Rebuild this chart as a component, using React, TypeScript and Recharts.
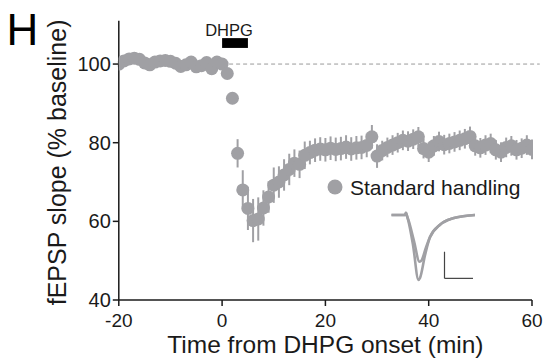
import React from 'react';
import {
  ComposedChart,
  LineChart,
  Line,
  XAxis,
  YAxis,
  ErrorBar,
  ReferenceLine,
  ReferenceArea,
} from 'recharts';

// Time from DHPG onset (min)
const times = [
  -20, -19, -18, -17, -16, -15, -14, -13, -12, -11, -10, -9, -8, -7, -6, -5, -4, -3, -2, -1,
  0, 1, 2, 3, 4, 5, 6, 7, 8, 9, 10, 11, 12, 13, 14, 15, 16, 17, 18, 19,
  20, 21, 22, 23, 24, 25, 26, 27, 28, 29, 30, 31, 32, 33, 34, 35, 36, 37, 38, 39,
  40, 41, 42, 43, 44, 45, 46, 47, 48, 49, 50, 51, 52, 53, 54, 55, 56, 57, 58, 59, 60,
];

// fEPSP slope (% baseline), standard handling
const slope = [
  100, 100.8, 101.3, 101.5, 101.2, 100.3, 99.8, 100.5, 100.8, 100.9, 100.7, 100.2, 99.4, 99.8, 100.5, 99.3, 99.6, 100.4, 98.8, 100.5,
  100, 97.6, 91.3, 77.3, 68, 63.3, 60.2, 60.6, 63.4, 66.2, 69.2, 70, 71.8, 73.2, 74.8, 74.5, 76.8, 77.5, 78.1, 78.4,
  78.2, 78.6, 78.3, 78.5, 78.9, 78.4, 78.7, 78.8, 79.3, 81.5, 76.6, 78, 78.8, 79.4, 80, 80.6, 80.4, 80.9, 81.5, 78.5,
  77.6, 79.2, 80.3, 79.5, 79.8, 80.2, 80.6, 81, 81.6, 79.2, 78.7, 79.4, 79.8, 78.2, 77.6, 78.8, 79.2, 78.2, 78.6, 79.4, 78.3,
];

// SEM
const sem = [
  0.8, 0.8, 0.8, 0.8, 0.8, 0.8, 0.8, 0.8, 0.8, 0.8, 0.8, 0.8, 0.8, 0.8, 0.8, 0.8, 0.8, 0.8, 0.8, 0.8,
  0.8, 1, 1.5, 3.6, 5, 5.5, 5.5, 5.5, 4.5, 4, 4.5, 4, 4, 4, 3.5, 3.5, 3.5, 3, 3, 3,
  3, 3, 3, 3, 3, 3, 3, 3, 3, 3, 3, 2.5, 2.5, 2.5, 2.5, 2.5, 2.5, 2.5, 2.5, 2.5,
  2.5, 2.5, 2.5, 2.5, 2.5, 2.5, 2.5, 2.5, 2.5, 2.5, 2.5, 2.5, 2.5, 2.5, 2.5, 2.5, 2.5, 2.5, 2.5, 2.5, 2.5,
];

const xTicks = [-20, 0, 20, 40, 60];
const yTicks = [40, 60, 80, 100];

// Inset example traces (ms, mV)
const traceBaselineT = [0.3, 3, 3.2, 3.4, 3.7, 4.6, 5.7, 6, 7, 8, 10, 12.6, 15, 17];
const traceBaselineV = [0, 0, 0.035, -0.015, -0.1, -0.46, -1.0, -0.97, -0.62, -0.34, -0.15, -0.05, -0.015, 0];
const traceAfterT = [0.3, 3, 3.2, 3.4, 3.7, 4.8, 5.9, 6.3, 7.2, 8, 10, 12.6, 15, 17];
const traceAfterV = [0, 0, 0.035, -0.015, -0.08, -0.4, -0.72, -0.7, -0.5, -0.34, -0.15, -0.05, -0.015, 0];

const data = times.map((t, i) => ({ t, v: slope[i], e: sem[i] }));
const baseTrace = traceBaselineT.map((t, i) => ({ t, v: traceBaselineV[i] }));
const afterTrace = traceAfterT.map((t, i) => ({ t, v: traceAfterV[i] }));

const GREY = '#a0a0a4';
const FONT = '"Liberation Sans", Arial, Helvetica, sans-serif';
const INK = '#1a1a1a';

export default function App() {
  return (
    <div style={{ position: 'absolute', left: 0, top: 0, width: 545, height: 358, background: '#fff', fontFamily: FONT }}>
      <ComposedChart
        width={545}
        height={358}
        data={data}
        margin={{ top: 20.8, right: 13, bottom: 8, left: 58.8 }}
        style={{ fontFamily: FONT }}
      >
        <XAxis
          type="number"
          dataKey="t"
          domain={[-20, 60]}
          ticks={xTicks}
          allowDataOverflow
          height={50}
          tickSize={6}
          tickMargin={7.5}
          stroke={INK}
          strokeWidth={1.5}
          tick={{ fill: INK, fontSize: 19, fontFamily: FONT }}
          label={{
            content: (p: any) => {
              const vb = p.viewBox;
              return (
                <text x={vb.x + vb.width / 2} y={352.5} textAnchor="middle" fontSize={24.5} fill={INK} fontFamily={FONT}>
                  Time from DHPG onset (min)
                </text>
              );
            },
          }}
        />
        <YAxis
          type="number"
          domain={[40, 111]}
          ticks={yTicks}
          allowDataOverflow
          width={60}
          tickSize={6}
          tickMargin={2}
          stroke={INK}
          strokeWidth={1.5}
          tick={{ fill: INK, fontSize: 20, fontFamily: FONT }}
          label={{
            content: (p: any) => {
              const vb = p.viewBox;
              const cx = 57;
              const cy = vb.y + vb.height / 2 + 2;
              return (
                <text
                  x={cx}
                  y={cy}
                  transform={`rotate(-90, ${cx}, ${cy})`}
                  textAnchor="middle"
                  dominantBaseline="central"
                  fontSize={25}
                  fill={INK}
                  fontFamily={FONT}
                >
                  fEPSP slope (% baseline)
                </text>
              );
            },
          }}
        />
        <ReferenceLine
          segment={[{ x: 0, y: 100 }, { x: 61.5, y: 100 }]}
          stroke="#9a9a9a"
          strokeWidth={1}
          strokeDasharray="4 3"
          ifOverflow="visible"
        />
        <ReferenceArea
          x1={0}
          x2={5}
          y1={104.1}
          y2={106.6}
          fill="#000"
          fillOpacity={1}
          stroke="none"
          ifOverflow="visible"
          label={{
            content: (p: any) => {
              const vb = p.viewBox;
              return (
                <text x={vb.x + vb.width / 2 - 6} y={vb.y - 2} textAnchor="middle" fontSize={16.5} fill={INK} fontFamily={FONT}>
                  DHPG
                </text>
              );
            },
          }}
        />
        <Line
          dataKey="v"
          stroke="none"
          isAnimationActive={false}
          dot={{ r: 6.5, fill: GREY, stroke: 'none' }}
          activeDot={false}
        >
          <ErrorBar dataKey="e" width={0} stroke={GREY} strokeWidth={2} direction="y" isAnimationActive={false} />
        </Line>
      </ComposedChart>

      <div style={{ position: 'absolute', left: 390, top: 205, width: 90, height: 80 }}>
        <LineChart width={90} height={80} margin={{ top: 0, right: 0, bottom: 0, left: 0 }}>
          <XAxis type="number" dataKey="t" domain={[0, 18]} hide allowDataOverflow />
          <YAxis type="number" domain={[-1.077, 0.154]} hide allowDataOverflow />
          <Line data={baseTrace} dataKey="v" type="monotone" stroke={GREY} strokeWidth={2.6} dot={false} isAnimationActive={false} />
          <Line data={afterTrace} dataKey="v" type="monotone" stroke={GREY} strokeWidth={2.6} dot={false} isAnimationActive={false} />
          <ReferenceLine segment={[{ x: 10.9, y: -0.565 }, { x: 10.9, y: -0.975 }]} stroke="#444" strokeWidth={1.2} ifOverflow="visible" />
          <ReferenceLine segment={[{ x: 10.9, y: -0.975 }, { x: 16.6, y: -0.975 }]} stroke="#444" strokeWidth={1.2} ifOverflow="visible" />
        </LineChart>
      </div>

      <svg width={545} height={358} style={{ position: 'absolute', left: 0, top: 0, pointerEvents: 'none' }}>
        <text x={6.5} y={45} fontSize={44} fill="#000" fontFamily={FONT}>H</text>
        <circle cx={335} cy={187} r={7.5} fill={GREY} />
        <text x={350} y={194.5} fontSize={21} fill={INK} fontFamily={FONT}>Standard handling</text>
      </svg>
    </div>
  );
}
